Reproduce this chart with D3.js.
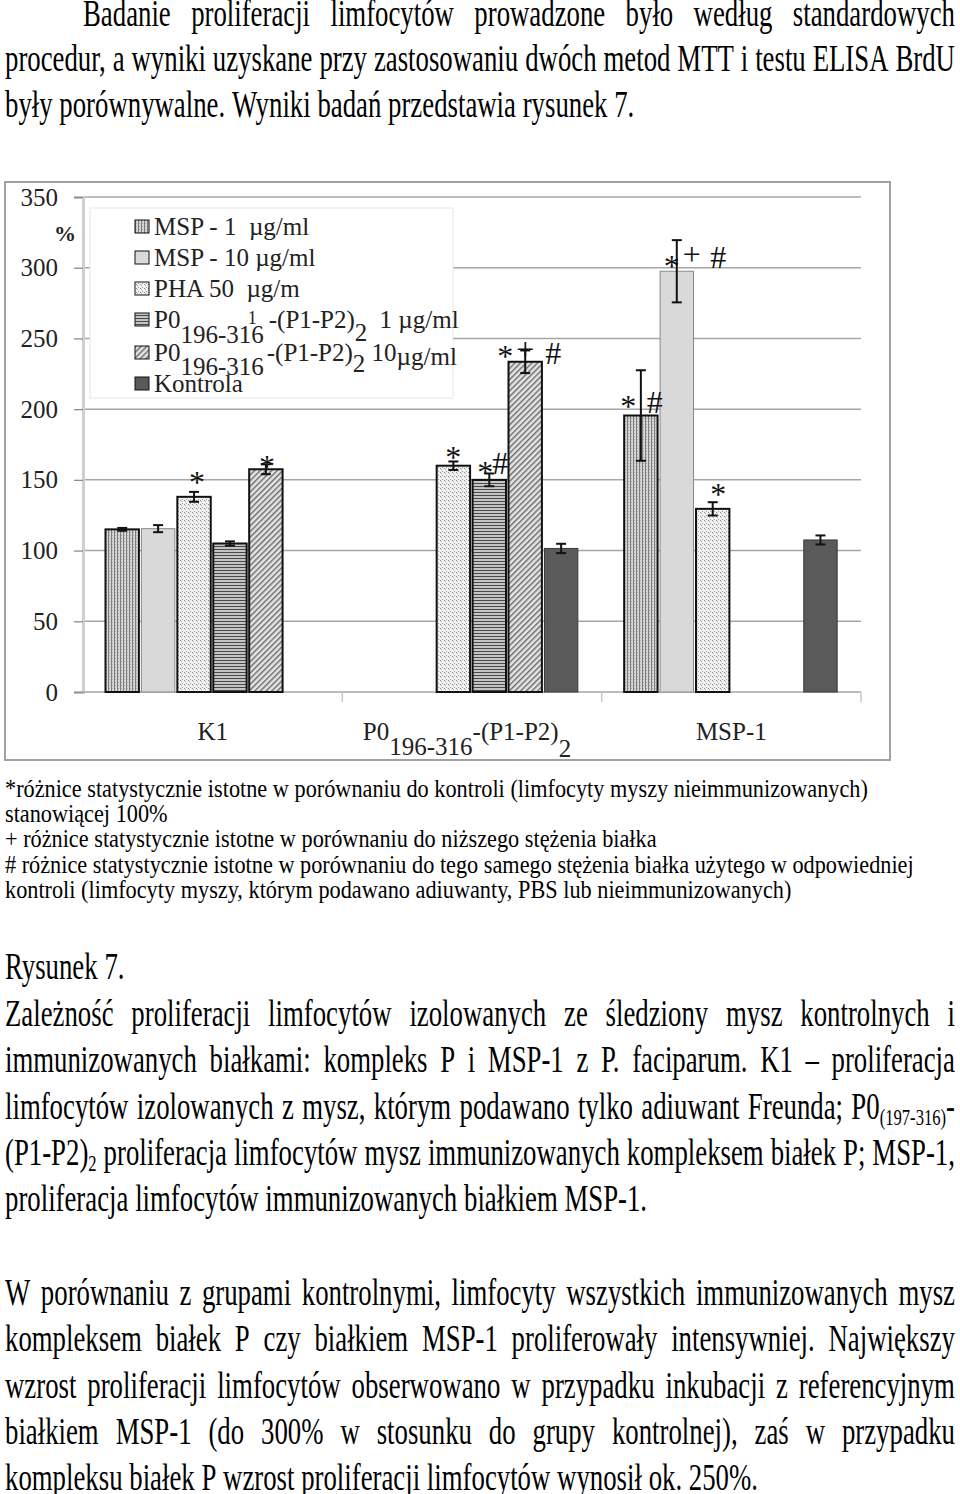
<!DOCTYPE html>
<html><head><meta charset="utf-8">
<script src="https://cdn.jsdelivr.net/npm/d3@7"></script>
<style>body{margin:0;background:#fff} svg{display:block}</style>
</head><body>
<svg id="page" width="960" height="1494"></svg>
<script>
// ---------------- DATA ----------------
const categories = ["K1", "P0", "MSP-1"];
const seriesKeys = ["msp1", "msp10", "pha", "p01", "p010", "kontrola"];
// values per series, in category order [K1, P0, MSP-1]
const msp1Values     = [115,   null, 195.5];
const msp10Values    = [115.5, null, 297.5];
const phaValues      = [138,   160,  129.5];
const p01Values      = [105,   150,  null];
const p010Values     = [157.5, 233.5, null];
const kontrolaValues = [null,  101.5, 107.5];
// error bars (±)
const msp1Err     = [1,   null, 32];
const msp10Err    = [2.5, null, 22];
const phaErr      = [3.5, 3,    4.7];
const p01Err      = [1.5, 4.5,  null];
const p010Err     = [3.5, 8,    null];
const kontrolaErr = [null, 3.3, 3.2];
const yTicks = [0, 50, 100, 150, 200, 250, 300, 350];
const significance = [
  {c: "K1", s: "pha", t: "*"},
  {c: "K1", s: "p010", t: "*"},
  {c: "P0", s: "pha", t: "*"},
  {c: "P0", s: "p01", t: "*"},
  {c: "P0", s: "p01", t: "#"},
  {c: "P0", s: "p010", t: "*"},
  {c: "P0", s: "p010", t: "+"},
  {c: "P0", s: "p010", t: "#"},
  {c: "MSP-1", s: "msp1", t: "*"},
  {c: "MSP-1", s: "msp1", t: "#"},
  {c: "MSP-1", s: "msp10", t: "*"},
  {c: "MSP-1", s: "msp10", t: "+"},
  {c: "MSP-1", s: "msp10", t: "#"},
  {c: "MSP-1", s: "pha", t: "*"}
];

// ---------------- LAYOUT ----------------
const markOffsets = [[3,-18.5],[1,-7.6],[0,-12.4],[-4,-11.6],[11,-16.6],[-20,-10],[0,-10],[28,-8.5],
                     [-12.6,-14],[14,-14],[-5,-9.6],[15,-14.6],[41.5,-14.6],[5.6,-18.8]];
const glyphCenter = {"*": 15, "#": 11, "+": 8};
const serif = "'Liberation Serif','Times New Roman',serif";

const svg = d3.select("#page");
const defs = svg.append("defs");
function pat(id, w, h, draw, tr) {
  const p = defs.append("pattern").attr("id", id).attr("patternUnits", "userSpaceOnUse")
    .attr("width", w).attr("height", h);
  if (tr) p.attr("patternTransform", tr);
  draw(p);
}
pat("pMsp1", 3, 3, p => {
  p.append("rect").attr("width", 3).attr("height", 3).attr("fill", "#d6d6d6");
  p.append("rect").attr("width", 1).attr("height", 3).attr("fill", "#7c7c7c");
  p.append("rect").attr("x", 1).attr("y", 1).attr("width", 1).attr("height", 1).attr("fill", "#a8a8a8");
});
pat("pPha", 4, 4, p => {
  p.append("rect").attr("width", 4).attr("height", 4).attr("fill", "#f2f2f2");
  p.append("rect").attr("width", 1).attr("height", 1).attr("fill", "#8a8a8a");
  p.append("rect").attr("x", 1).attr("y", 1).attr("width", 1).attr("height", 1).attr("fill", "#b0b0b0");
  p.append("rect").attr("x", 2).attr("y", 3).attr("width", 1).attr("height", 1).attr("fill", "#9a9a9a");
});
pat("pP01", 3, 3, p => {
  p.append("rect").attr("width", 3).attr("height", 3).attr("fill", "#c4c4c4");
  p.append("rect").attr("width", 3).attr("height", 1).attr("fill", "#4a4a4a");
});
pat("pP010", 4, 4, p => {
  p.append("rect").attr("width", 4).attr("height", 4).attr("fill", "#e4e4e4");
  p.append("rect").attr("width", 1.4).attr("height", 4).attr("fill", "#6a6a6a");
}, "rotate(45)");

const style = {
  msp1:     {fill: "url(#pMsp1)", stroke: "#111", sw: 2},
  msp10:    {fill: "#d9d9d9", stroke: "#8a8a8a", sw: 1},
  pha:      {fill: "url(#pPha)", stroke: "#111", sw: 2},
  p01:      {fill: "url(#pP01)", stroke: "#111", sw: 2},
  p010:     {fill: "url(#pP010)", stroke: "#111", sw: 2},
  kontrola: {fill: "#5a5a5a", stroke: "#3a3a3a", sw: 1}
};

// chart frame
svg.append("rect").attr("x", 5).attr("y", 182).attr("width", 885).attr("height", 578)
  .attr("fill", "#fff").attr("stroke", "#a0a0a0").attr("stroke-width", 2);

const plotL = 83, plotR = 861, plotB = 692, plotT = 197;
const y = d3.scaleLinear().domain([0, 350]).range([plotB, plotT]);
const x0 = d3.scaleBand().domain(categories).range([plotL, plotR]);
const x1 = d3.scaleBand().domain(seriesKeys).range([22.5, 235.5]).paddingInner(0.07);

// gridlines
svg.append("g").selectAll("line").data(yTicks.filter(d => d > 0)).join("line")
  .attr("x1", plotL).attr("x2", plotR).attr("y1", d => y(d)).attr("y2", d => y(d))
  .attr("stroke", "#a6a6a6").attr("stroke-width", 1.5);
// y axis
const yAxis = svg.append("g").attr("transform", `translate(${plotL},0)`)
  .call(d3.axisLeft(y).tickValues(yTicks).tickSize(9).tickPadding(16));
yAxis.select(".domain").attr("stroke", "#cfcfcf").attr("stroke-width", 3);
yAxis.selectAll(".tick line").attr("stroke", "#8c8c8c").attr("stroke-width", 1.3);
yAxis.selectAll(".tick text").attr("font-family", serif).attr("font-size", 25).attr("fill", "#222");
svg.append("text").attr("x", 65).attr("y", 241).attr("text-anchor", "middle")
  .attr("font-family", serif).attr("font-weight", "bold").attr("font-size", 22).attr("fill", "#222").text("%");

// x axis
svg.append("line").attr("x1", plotL).attr("x2", plotR).attr("y1", plotB).attr("y2", plotB)
  .attr("stroke", "#a6a6a6").attr("stroke-width", 1.5);
svg.append("g").selectAll("line").data(categories.slice(1).concat(["__end"])).join("line")
  .attr("x1", d => d === "__end" ? plotR : x0(d)).attr("x2", d => d === "__end" ? plotR : x0(d))
  .attr("y1", plotB).attr("y2", plotB + 10).attr("stroke", "#c8c8c8").attr("stroke-width", 1.5);

// legend box (drawn over gridlines)
svg.append("rect").attr("x", 90).attr("y", 208).attr("width", 363).attr("height", 190)
  .attr("fill", "#fff").attr("stroke", "#e6e6e6").attr("stroke-width", 1);

// bars
const valueTable = [msp1Values, msp10Values, phaValues, p01Values, p010Values, kontrolaValues];
const errTable = [msp1Err, msp10Err, phaErr, p01Err, p010Err, kontrolaErr];
const bars = [];
seriesKeys.forEach((k, si) => categories.forEach((c, ci) => {
  const v = valueTable[si][ci];
  if (v != null) bars.push({k, c, v, e: errTable[si][ci]});
}));
const bw = x1.bandwidth();
svg.append("g").selectAll("rect").data(bars).join("rect")
  .attr("x", d => x0(d.c) + x1(d.k)).attr("width", bw)
  .attr("y", d => y(d.v)).attr("height", d => y(0) - y(d.v))
  .attr("fill", d => style[d.k].fill).attr("stroke", d => style[d.k].stroke)
  .attr("stroke-width", d => style[d.k].sw);

// error bars
const eg = svg.append("g").attr("stroke", "#111").attr("stroke-width", 2);
bars.forEach(d => {
  const cx = x0(d.c) + x1(d.k) + bw / 2;
  const t = y(d.v + d.e), b = y(d.v - d.e);
  eg.append("line").attr("x1", cx).attr("x2", cx).attr("y1", t).attr("y2", b);
  eg.append("line").attr("x1", cx - 5).attr("x2", cx + 5).attr("y1", t).attr("y2", t);
  eg.append("line").attr("x1", cx - 5).attr("x2", cx + 5).attr("y1", b).attr("y2", b);
});

// significance marks
const valOf = (c, k) => valueTable[seriesKeys.indexOf(k)][categories.indexOf(c)];
svg.append("g").selectAll("text").data(significance).join("text")
  .attr("x", (d, i) => x0(d.c) + x1(d.s) + bw / 2 + markOffsets[i][0])
  .attr("y", (d, i) => y(valOf(d.c, d.s)) + markOffsets[i][1] + glyphCenter[d.t])
  .attr("text-anchor", "middle").attr("font-family", serif).attr("font-size", 32).attr("fill", "#111")
  .text(d => d.t);

// x labels
const xl = svg.append("g").attr("font-family", serif).attr("font-size", 25).attr("fill", "#222").attr("text-anchor", "middle");
xl.append("text").attr("x", x0("K1") + x0.bandwidth() / 2).attr("y", 740).text("K1");
xl.append("text").attr("x", x0("MSP-1") + x0.bandwidth() / 2).attr("y", 740).text("MSP-1");
const pl = xl.append("text").attr("x", x0("P0") + x0.bandwidth() / 2 - 5).attr("y", 740);
pl.append("tspan").text("P0");
pl.append("tspan").attr("dy", 15).text("196-316");
pl.append("tspan").attr("dy", -15).text("-(P1-P2)");
pl.append("tspan").attr("dy", 17).text("2");

// legend
const legendRows = [
  {k: "msp1", y: 235, segs: [{t: "MSP - 1  µg/ml"}]},
  {k: "msp10", y: 266, segs: [{t: "MSP - 10 µg/ml"}]},
  {k: "pha", y: 297, segs: [{t: "PHA 50  µg/m"}]},
  {k: "p01", y: 328, segs: [{t: "P0"}, {t: "196-316", dy: 15}, {t: "1", dx: -16, dy: -19, fs: 18},
                           {t: "-(P1-P2)", dx: 12, dy: 4}, {t: "2", dy: 13}, {t: " 1 µg/ml", dx: 6, dy: -13}]},
  {k: "p010", y: 361, segs: [{t: "P0"}, {t: "196-316", dy: 14}, {t: "-(P1-P2)", dx: 3, dy: -14},
                            {t: "2", dy: 11}, {t: " 10", dy: -11}, {t: "µg/ml", dy: 4}]},
  {k: "kontrola", y: 392, segs: [{t: "Kontrola"}]}
];
const lg = svg.append("g");
legendRows.forEach(r => {
  lg.append("rect").attr("x", 135).attr("y", r.y - 15).attr("width", 14).attr("height", 13)
    .attr("fill", style[r.k].fill).attr("stroke", "#111").attr("stroke-width", 1);
  const t = lg.append("text").attr("x", 154).attr("y", r.y).attr("font-family", serif)
    .attr("font-size", 25).attr("fill", "#222").attr("xml:space", "preserve").style("white-space", "pre");
  r.segs.forEach(s => {
    const ts = t.append("tspan").text(s.t);
    if (s.dx) ts.attr("dx", s.dx);
    if (s.dy) ts.attr("dy", s.dy);
    if (s.fs) ts.attr("font-size", s.fs);
  });
});

// ---------------- BODY TEXT ----------------
function parseWord(w) {
  const segs = []; const re = /_\{([^}]*)\}/g; let last = 0, m;
  while ((m = re.exec(w))) {
    if (m.index > last) segs.push({t: w.slice(last, m.index), sub: false});
    segs.push({t: m[1], sub: true}); last = re.lastIndex;
  }
  if (last < w.length) segs.push({t: w.slice(last), sub: false});
  return segs;
}
function buildBlock(lines, size) {
  const built = lines.map(L => {
    const g = svg.append("g");
    const words = L.text.split(" ").map(parseWord);
    const els = words.map(segs => {
      const t = g.append("text").attr("y", L.y).attr("font-family", serif).attr("font-size", size).attr("fill", "#000");
      let shifted = false;
      segs.forEach(s => {
        const ts = t.append("tspan").text(s.t);
        if (s.sub) { ts.attr("font-size", size * 0.62); if (!shifted) { ts.attr("dy", size * 0.17); shifted = true; } }
        else if (shifted) { ts.attr("dy", -size * 0.17); shifted = false; }
      });
      return t;
    });
    const widths = els.map(e => e.node().getComputedTextLength());
    return {L, g, els, widths};
  });
  const sp = size * 0.25;
  return {built, sp, nat: i => d3.sum(built[i].widths) + sp * (built[i].widths.length - 1)};
}
function layoutBlock(B, sx) {
  B.built.forEach(b => {
    b.g.attr("transform", `translate(${b.L.x0},0) scale(${sx},1)`);
    let gap = B.sp;
    if (b.L.justify) gap = ((b.L.x1 - b.L.x0) / sx - d3.sum(b.widths)) / (b.widths.length - 1);
    let x = 0;
    b.els.forEach((e, i) => { e.attr("x", x); x += b.widths[i] + gap; });
  });
}

const para1 = buildBlock([
  {text: "Badanie proliferacji limfocytów prowadzone było według standardowych", x0: 83, x1: 955, y: 26, justify: true},
  {text: "procedur, a wyniki uzyskane przy zastosowaniu dwóch metod MTT i testu ELISA BrdU", x0: 5, x1: 955, y: 71, justify: true},
  {text: "były porównywalne. Wyniki badań przedstawia rysunek 7.", x0: 5, y: 117}
], 38);

const notes = buildBlock([
  {text: "*różnice statystycznie istotne w porównaniu do kontroli (limfocyty myszy nieimmunizowanych)", x0: 5, y: 797},
  {text: "stanowiącej 100%", x0: 5, y: 822},
  {text: "+ różnice statystycznie istotne w porównaniu do niższego stężenia białka", x0: 5, y: 847},
  {text: "# różnice statystycznie istotne w porównaniu do tego samego stężenia białka użytego w odpowiedniej", x0: 5, y: 873},
  {text: "kontroli (limfocyty myszy, którym podawano adiuwanty, PBS lub nieimmunizowanych)", x0: 5, y: 898}
], 25);

const rys = buildBlock([{text: "Rysunek 7.", x0: 5, y: 979}], 38);

const caption = buildBlock([
  {text: "Zależność proliferacji limfocytów izolowanych ze śledziony mysz kontrolnych i", x0: 5, x1: 955, y: 1026, justify: true},
  {text: "immunizowanych białkami: kompleks P i MSP-1 z P. faciparum. K1 – proliferacja", x0: 5, x1: 955, y: 1072, justify: true},
  {text: "limfocytów izolowanych z mysz, którym podawano tylko adiuwant Freunda; P0_{(197-316)}-", x0: 5, x1: 955, y: 1119, justify: true},
  {text: "(P1-P2)_{2} proliferacja limfocytów mysz immunizowanych kompleksem białek P; MSP-1,", x0: 5, x1: 955, y: 1165, justify: true},
  {text: "proliferacja limfocytów immunizowanych białkiem MSP-1.", x0: 5, y: 1211}
], 38);

const para3 = buildBlock([
  {text: "W porównaniu z grupami kontrolnymi, limfocyty wszystkich immunizowanych mysz", x0: 5, x1: 955, y: 1305, justify: true},
  {text: "kompleksem białek P czy białkiem MSP-1 proliferowały intensywniej. Największy", x0: 5, x1: 955, y: 1351, justify: true},
  {text: "wzrost proliferacji limfocytów obserwowano w przypadku inkubacji z referencyjnym", x0: 5, x1: 955, y: 1398, justify: true},
  {text: "białkiem MSP-1 (do 300% w stosunku do grupy kontrolnej), zaś w przypadku", x0: 5, x1: 955, y: 1444, justify: true},
  {text: "kompleksu białek P wzrost proliferacji limfocytów wynosił ok. 250%.", x0: 5, y: 1490}
], 38);

// common horizontal compression of the body text, fitted on the paragraphs' last lines
const bodySx = (643 / caption.nat(4) + 752 / para3.nat(4)) / 2;
layoutBlock(para1, bodySx);
layoutBlock(rys, bodySx);
layoutBlock(caption, bodySx);
layoutBlock(para3, bodySx);
layoutBlock(notes, 863 / notes.nat(0));
</script>
</body></html>
